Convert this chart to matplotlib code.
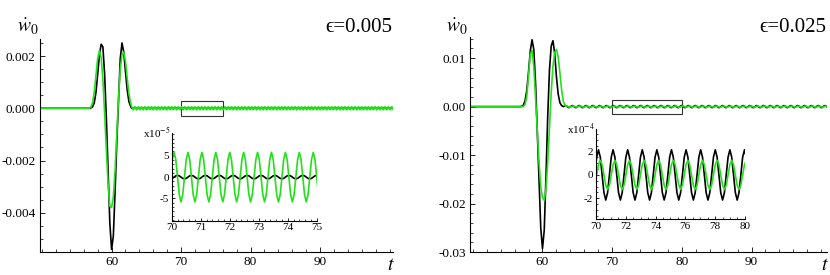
import numpy as np
import matplotlib
matplotlib.use("Agg")
import matplotlib.pyplot as plt
from matplotlib.ticker import MultipleLocator, FixedLocator, FormatStrFormatter
from matplotlib.patches import Rectangle

plt.rcParams['font.family'] = ['Liberation Serif', 'DejaVu Serif']
plt.rcParams['mathtext.fontset'] = 'stix'
plt.rcParams['axes.unicode_minus'] = False

# -----------------------------
# Data
# -----------------------------
# pulse samples, values in units of 1e-3
pulse_t = [49.7, 56.5, 56.75, 57.0, 57.25, 57.5, 57.75, 58.0, 58.25, 58.5, 58.75,
           59.0, 59.25, 59.5, 59.75, 60.0, 60.25, 60.5, 60.75, 61.0, 61.25,
           61.5, 61.75, 62.0, 62.25, 62.5, 62.75, 63.0]

left_black = [0.0, 0.0, 0.0, 0.01, 0.05, 0.2, 0.6, 1.3, 2.05, 2.45, 2.35,
              1.3, -0.4, -2.4, -4.4, -5.4, -4.9, -3.2, -1.3, 0.3, 1.9,
              2.5, 2.15, 1.4, 0.7, 0.25, 0.07, 0.01]
left_green = [0.0, 0.0, 0.0, 0.03, 0.2, 0.6, 1.25, 1.9, 2.2, 1.95, 1.1,
              -0.2, -1.6, -2.9, -3.75, -3.8, -3.4, -2.4, -1.0, 0.4, 1.5,
              2.05, 2.15, 1.8, 1.15, 0.55, 0.2, 0.05]

right_black = [0.0, 0.0, 0.0, 0.05, 0.3, 1.2, 3.4, 7.2, 11.5, 13.8, 11.8,
               5.0, -5.0, -15.5, -25.0, -29.3, -25.5, -14.5, -2.0, 7.5, 12.5,
               13.6, 11.0, 6.2, 2.6, 0.8, 0.2, 0.0]
right_green = [0.0, 0.0, 0.0, 0.0, 0.05, 0.4, 2.2, 6.5, 10.8, 11.6, 8.2,
               2.0, -5.0, -11.5, -16.5, -18.8, -19.3, -17.0, -11.5, -4.5, 2.8,
               8.3, 11.2, 11.8, 10.3, 7.0, 3.4, 1.0]

# steady ringing after the pulse: one period, 8 samples
left_period = 0.48
left_tail_start = 62.88
left_cycle_green = [5.8, 4.1, 0.0, -4.1, -5.8, -4.1, 0.0, 4.1]     # x1e-5
left_cycle_black = [0.0, 0.3, 0.4, 0.3, 0.0, -0.3, -0.4, -0.3]     # x1e-5

right_period = 0.98
right_tail_start = 63.31
right_cycle_black = [2.15, 1.52, 0.0, -1.52, -2.15, -1.52, 0.0, 1.52]  # x1e-4
right_cycle_green = [0.88, 1.25, 0.88, 0.0, -0.88, -1.25, -0.88, 0.0]  # x1e-4

left_yticks = [-0.004, -0.002, 0.0, 0.002]
right_yticks = [-0.03, -0.02, -0.01, 0.0, 0.01]
main_xticks = [60, 70, 80, 90]
left_inset_yticks = [-5, 0, 5]
right_inset_yticks = [-2, 0, 2]

GREEN = '#22e01a'


def full_curve(pulse, cycle, cycle_scale, start, period, t_end):
    t_p = np.array(pulse_t)
    v_p = np.array(pulse) * 1e-3
    keep = t_p < start
    n_cyc = int(np.ceil((t_end - start) / period)) + 1
    t_tail = start + period / 8.0 * np.arange(8 * n_cyc)
    v_tail = np.tile(np.array(cycle) * cycle_scale, n_cyc)
    return np.concatenate([t_p[keep], t_tail]), np.concatenate([v_p[keep], v_tail])


def style_axes(ax):
    for s in ('top', 'right'):
        ax.spines[s].set_visible(False)
    for s in ('left', 'bottom'):
        ax.spines[s].set_linewidth(0.8)
    ax.tick_params(which='both', direction='in', top=False, right=False)
    ax.tick_params(which='major', length=3.5, width=0.6)
    ax.tick_params(which='minor', length=2, width=0.5)


fig = plt.figure(figsize=(8.3, 2.75), dpi=100)

panels = [
    dict(main=[0.0482, 0.0836, 0.4253, 0.7745], xlim=(49.7, 100.5), ylim=(-0.0055, 0.00265),
         yticks=left_yticks, yminor=0.0005, yfmt='%.3f',
         black=left_black, green=left_green, cb=left_cycle_black, cg=left_cycle_green,
         scale=1e-5, start=left_tail_start, period=left_period,
         rect=(70, -0.00028, 6, 0.00056),
         inset=[0.2069, 0.1975, 0.1747, 0.32], ixlim=(70, 75), iylim=(-10.2, 10.4),
         ixmaj=1, ixmin=0.2, iyticks=left_inset_yticks, iymin=1, iexp=r'x10$^{-5}$',
         eps='ϵ=0.005', epsx=325, wx=17, tx=387),
    dict(main=[0.5663, 0.0836, 0.4298, 0.7807], xlim=(49.6, 100.8), ylim=(-0.0300, 0.0143),
         yticks=right_yticks, yminor=0.002, yfmt='%.2f',
         black=right_black, green=right_green, cb=right_cycle_black, cg=right_cycle_green,
         scale=1e-4, start=right_tail_start, period=right_period,
         rect=(70, -0.00145, 10, 0.0029),
         inset=[0.718, 0.2025, 0.1795, 0.327], ixlim=(70, 80), iylim=(-3.8, 3.9),
         ixmaj=2, ixmin=0.5, iyticks=right_inset_yticks, iymin=0.5, iexp=r'x10$^{-4}$',
         eps='ϵ=0.025', epsx=759, wx=446, tx=821),
]

for p in panels:
    ax = fig.add_axes(p['main'])
    style_axes(ax)
    tb, vb = full_curve(p['black'], p['cb'], p['scale'], p['start'], p['period'], p['xlim'][1])
    tg, vg = full_curve(p['green'], p['cg'], p['scale'], p['start'], p['period'], p['xlim'][1])
    ax.plot(tb, vb, color='black', lw=1.2)
    ax.plot(tg, vg, color=GREEN, lw=1.2)
    ax.set_xlim(*p['xlim'])
    ax.set_ylim(*p['ylim'])
    ax.xaxis.set_major_locator(FixedLocator(main_xticks))
    ax.xaxis.set_minor_locator(MultipleLocator(2))
    ax.yaxis.set_major_locator(FixedLocator(p['yticks']))
    ax.yaxis.set_minor_locator(MultipleLocator(p['yminor']))
    ax.yaxis.set_major_formatter(FormatStrFormatter(p['yfmt']))
    ax.tick_params(axis='both', labelsize=9.5, pad=3)
    rx, ry, rw, rh = p['rect']
    ax.add_patch(Rectangle((rx, ry), rw, rh, fill=False, edgecolor='#333333', lw=0.8))

    # inset zoom on the ringing
    ins = fig.add_axes(p['inset'])
    ins.set_facecolor('white')
    style_axes(ins)
    ins.plot(tb, vb / p['scale'], color='black', lw=1.2)
    ins.plot(tg, vg / p['scale'], color=GREEN, lw=1.2)
    ins.set_xlim(*p['ixlim'])
    ins.set_ylim(*p['iylim'])
    ins.xaxis.set_major_locator(MultipleLocator(p['ixmaj']))
    ins.xaxis.set_minor_locator(MultipleLocator(p['ixmin']))
    ins.yaxis.set_major_locator(FixedLocator(p['iyticks']))
    ins.yaxis.set_minor_locator(MultipleLocator(p['iymin']))
    ins.xaxis.set_major_formatter(FormatStrFormatter('%d'))
    ins.yaxis.set_major_formatter(FormatStrFormatter('%d'))
    ins.tick_params(axis='both', labelsize=8, pad=2)
    ins.tick_params(which='major', length=2.5)
    ins.tick_params(which='minor', length=1.3)
    ins.text(-0.01, 1.0, p['iexp'], transform=ins.transAxes, ha='right', va='center', fontsize=8)

    fig.text(p['epsx'] / 830, 1 - 27 / 275, p['eps'], ha='left', va='center', fontsize=15)
    fig.text(p['wx'] / 830, 1 - 27 / 275, r'$\dot{w}_0$', ha='left', va='center', fontsize=14)
    fig.text(p['tx'] / 830, 1 - 266 / 275, r'$t$', ha='left', va='center', fontsize=14)

fig.savefig('out.png', dpi=100)
